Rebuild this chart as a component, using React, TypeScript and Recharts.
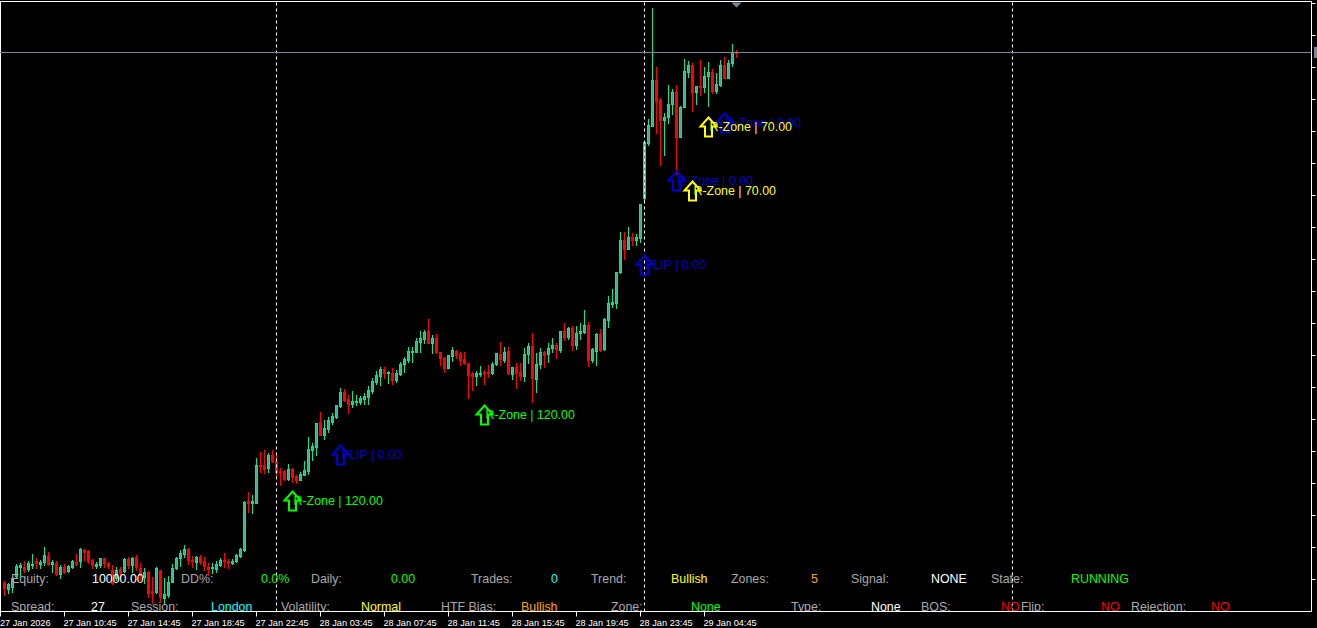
import { Bar, ComposedChart, ReferenceDot, ReferenceLine, XAxis, YAxis } from "recharts";

const opens = [
  28, 22, 24, 35, 44, 44, 42, 46, 50, 47,
  49, 55, 47, 48, 37, 44, 40, 44, 49, 50,
  61, 60, 51, 45, 46, 53, 48, 41, 33, 42,
  40, 52, 46, 54, 43, 34, 39, 20, 19, 41,
  13, 16, 29, 43, 53, 57, 62, 51, 49, 54,
  50, 44, 43, 42, 46, 51, 50, 48, 50, 55,
  61, 110, 108, 108, 146, 146, 143, 156, 150, 140,
  140, 132, 142, 135, 131, 136, 140, 161, 164, 189,
  176, 182, 189, 194, 205, 219, 212, 207, 209, 209,
  212, 214, 220, 229, 235, 242, 238, 238, 231, 237,
  247, 251, 259, 259, 269, 272, 280, 268, 273, 259,
  253, 243, 255, 260, 257, 252, 248, 238, 235, 237,
  239, 239, 238, 247, 257, 251, 260, 237, 244, 239,
  235, 257, 265, 232, 247, 259, 257, 263, 266, 261,
  280, 274, 283, 266, 278, 279, 286, 251, 260, 277,
  262, 291, 307, 308, 339, 371, 362, 374, 371, 373,
  413, 468, 485, 531, 511, 491, 494, 507, 519, 474,
  504, 539, 546, 519, 525, 524, 535, 539, 520, 526,
  546, 533, 548, 559,
];

const highs = [
  30, 28, 34, 47, 48, 50, 50, 57, 53, 51,
  64, 59, 51, 50, 46, 47, 46, 51, 57, 63,
  62, 61, 52, 49, 53, 53, 49, 46, 44, 44,
  53, 54, 54, 56, 48, 43, 40, 34, 44, 41,
  33, 35, 47, 54, 61, 66, 63, 55, 55, 56,
  54, 48, 48, 50, 53, 58, 52, 52, 57, 63,
  110, 119, 116, 153, 159, 161, 158, 161, 156, 143,
  141, 147, 143, 136, 139, 150, 174, 168, 188, 199,
  191, 194, 198, 206, 223, 222, 216, 220, 216, 215,
  218, 225, 233, 240, 244, 244, 240, 243, 241, 249,
  254, 264, 264, 273, 280, 281, 292, 276, 277, 259,
  254, 256, 264, 261, 259, 259, 248, 239, 240, 245,
  241, 246, 249, 258, 269, 264, 264, 244, 248, 248,
  263, 268, 278, 258, 263, 260, 268, 273, 268, 280,
  288, 284, 285, 285, 288, 301, 289, 263, 278, 282,
  293, 315, 322, 339, 379, 379, 384, 378, 377, 407,
  470, 492, 603, 544, 513, 498, 526, 522, 526, 505,
  552, 550, 548, 525, 551, 544, 549, 542, 538, 551,
  554, 551, 567, 561,
];

const lows = [
  16, 18, 19, 33, 34, 39, 40, 43, 43, 43,
  46, 46, 39, 36, 33, 38, 39, 43, 46, 44,
  51, 48, 43, 43, 44, 44, 43, 27, 31, 34,
  39, 43, 39, 41, 31, 28, 14, 8, 18, 10,
  7, 14, 29, 42, 45, 54, 47, 44, 42, 47,
  41, 36, 38, 39, 45, 44, 43, 47, 49, 54,
  60, 99, 98, 108, 139, 138, 139, 149, 134, 126,
  131, 131, 129, 128, 131, 136, 137, 151, 156, 176,
  172, 179, 187, 193, 204, 210, 198, 204, 206, 207,
  207, 207, 218, 227, 226, 233, 228, 227, 229, 236,
  239, 249, 249, 259, 259, 268, 268, 258, 258, 246,
  239, 243, 250, 253, 246, 247, 213, 221, 226, 235,
  227, 234, 237, 246, 246, 249, 237, 232, 223, 231,
  230, 248, 209, 219, 243, 244, 249, 259, 253, 259,
  271, 272, 261, 262, 272, 278, 245, 249, 246, 260,
  261, 284, 304, 303, 338, 352, 362, 366, 366, 369,
  409, 466, 485, 478, 446, 456, 488, 497, 437, 474,
  504, 534, 500, 507, 516, 519, 505, 518, 518, 525,
  533, 533, 545, 554,
];

const closes = [
  23, 27, 33, 45, 46, 41, 48, 47, 48, 49,
  56, 47, 49, 37, 44, 39, 45, 50, 47, 62,
  59, 50, 46, 47, 53, 48, 45, 28, 41, 38,
  52, 46, 53, 44, 36, 39, 18, 18, 43, 14,
  17, 29, 43, 53, 58, 62, 51, 50, 54, 49,
  45, 42, 44, 47, 51, 50, 48, 50, 56, 62,
  109, 108, 110, 146, 145, 142, 156, 150, 139, 139,
  132, 142, 134, 131, 137, 141, 162, 165, 188, 176,
  183, 191, 195, 206, 219, 211, 207, 210, 210, 213,
  215, 221, 230, 236, 242, 238, 239, 231, 238, 247,
  252, 260, 260, 270, 273, 279, 268, 273, 259, 253,
  243, 256, 261, 256, 251, 248, 236, 235, 238, 238,
  238, 238, 247, 258, 252, 259, 238, 244, 238, 235,
  257, 265, 233, 247, 259, 256, 263, 266, 262, 280,
  274, 283, 266, 278, 280, 286, 251, 262, 277, 261,
  292, 308, 309, 339, 371, 362, 374, 371, 374, 407,
  469, 486, 531, 510, 491, 494, 507, 519, 474, 504,
  540, 546, 519, 525, 524, 535, 539, 520, 527, 546,
  533, 548, 559, 558,
];

const timeTicks = [0, 16, 32, 48, 64, 80, 96, 112, 128, 144, 160, 176];
const timeLabels = [
  "27 Jan 2026", "27 Jan 10:45", "27 Jan 14:45", "27 Jan 18:45", "27 Jan 22:45", "28 Jan 03:45",
  "28 Jan 07:45", "28 Jan 11:45", "28 Jan 15:45", "28 Jan 19:45", "28 Jan 23:45", "29 Jan 04:45",
];
const priceTicks = [608, 576, 544, 512, 480, 448, 416, 384, 352, 320, 288, 256, 224, 192, 160, 128, 96, 64, 32];
const daySeparators = [69, 161, 253];
const lastPrice = 559;
const lastSlot = 184;

const zoneMarkers = [
  { slot: 85, price: 168, text: "FLIP | 0.00", kind: "flip" },
  { slot: 161, price: 358, text: "FLIP | 0.00", kind: "flip" },
  { slot: 169, price: 442, text: "R-Zone | 0.00", kind: "flip" },
  { slot: 181, price: 500, text: "R-Zone | 0.00", kind: "flip" },
  { slot: 73, price: 122, text: "R-Zone | 120.00", kind: "strong" },
  { slot: 121, price: 208, text: "R-Zone | 120.00", kind: "strong" },
  { slot: 173, price: 432, text: "R-Zone | 70.00", kind: "weak" },
  { slot: 177, price: 496, text: "R-Zone | 70.00", kind: "weak" },
];

const panelTopRow = [
  ["Equity:", "10000.00", "white"], ["DD%:", "0.0%", "lime"], ["Daily:", "0.00", "lime"], ["Trades:", "0", "cyan"],
  ["Trend:", "Bullish", "yellow"], ["Zones:", "5", "orange"], ["Signal:", "NONE", "white"], ["State:", "RUNNING", "lime"],
];
const panelBottomRow = [
  ["Spread:", "27", "white"], ["Session:", "London", "cyan"], ["Volatility:", "Normal", "yellow"], ["HTF Bias:", "Bullish", "orange"],
  ["Zone:", "None", "lime"], ["Type:", "None", "white"], ["BOS:", "NO", "red"], ["Flip:", "NO", "red"], ["Rejection:", "NO", "red"],
];
const topRowX = [[11, 92], [181, 261], [311, 391], [471, 551], [591, 671], [731, 811], [851, 931], [991, 1071]];
const bottomRowX = [[11, 91], [131, 211], [281, 361], [441, 521], [611, 691], [791, 871], [921, 1001], [1021, 1101], [1131, 1211]];

const FONT = "'Liberation Sans', Arial, sans-serif";
const BULL_EDGE = "#00e89a";
const BULL_FILL = "#2fb58c";
const BEAR = "#ff0000";
const GREY = "#778899";
const LABEL = "#a9a9a9";
const MARKER_COLORS: Record<string, string> = { flip: "#0000cd", strong: "#00ff00", weak: "#ffff00" };

const rows = Array.from({ length: 328 }, (_, slot) => {
  const k = slot - 1;
  if (k < 0 || k >= opens.length) return { slot };
  return { slot, range: [lows[k], highs[k]], open: opens[k], close: closes[k], high: highs[k], low: lows[k] };
});

// one Bar carries low..high, the body is placed inside it with the bar's own px-per-unit
function Candle({ x, y, height, payload }: any) {
  if (!payload || !payload.range) return null;
  const up = payload.close >= payload.open;
  const color = up ? BULL_EDGE : BEAR;
  const perUnit = height / (payload.high - payload.low);
  const center = Math.round(x);
  const wickTop = Math.floor(y);
  const wickBottom = Math.floor(y + height) + 1;
  const bodyTop = Math.floor(y + (payload.high - Math.max(payload.open, payload.close)) * perUnit);
  const bodyBottom = Math.floor(y + (payload.high - Math.min(payload.open, payload.close)) * perUnit) + 1;
  const bodySize = bodyBottom - bodyTop;
  return (
    <g>
      <rect x={center} y={wickTop} width={1} height={wickBottom - wickTop} fill={color} />
      <rect x={center - 1} y={bodyTop} width={3} height={bodySize} fill={color} />
      {up && bodySize > 2 ? <rect x={center} y={bodyTop + 1} width={1} height={bodySize - 2} fill={BULL_FILL} /> : null}
    </g>
  );
}

function TimeTick({ x, y, payload }: any) {
  const label = timeLabels[timeTicks.indexOf(payload.value)];
  return (
    <text x={Math.max(x - 1, 0)} y={y + 7} fill="#fff" fontSize={9.2} fontFamily={FONT} textAnchor="start">
      {label}
    </text>
  );
}

function LastPriceLine({ x1, x2, y1 }: any) {
  const right = Math.max(x1, x2);
  return (
    <g>
      <line x1={Math.min(x1, x2)} x2={right} y1={y1} y2={y1} stroke={GREY} />
      <rect x={right + 2.5} y={y1 - 5.5} width={4} height={11} fill={GREY} />
    </g>
  );
}

function ShiftNotch({ cx, cy }: any) {
  return <polygon points={`${cx - 5},${cy} ${cx + 5},${cy} ${cx},${cy + 5}`} fill={GREY} />;
}

function ZoneArrow({ cx, cy, color, text }: any) {
  const tip = cy + 2;
  const d = `M${cx} ${tip} L${cx + 8} ${tip + 9} L${cx + 3.5} ${tip + 9} L${cx + 3.5} ${tip + 19} L${cx - 3.5} ${tip + 19} L${cx - 3.5} ${tip + 9} L${cx - 8} ${tip + 9} Z`;
  return (
    <g>
      <path d={d} fill="none" stroke={color} strokeWidth={2} />
      <text x={cx + 1} y={cy + 15.5} fill={color} fontSize={12.4} fontFamily={FONT}>
        {text}
      </text>
    </g>
  );
}

function PanelRow({ row, columns, y }: any) {
  return row.map((cell: string[], i: number) => (
    <g key={cell[0]}>
      <text x={columns[i][0]} y={y} fill={LABEL} fontSize={12.4} fontFamily={FONT}>
        {cell[0]}
      </text>
      <text x={columns[i][1]} y={y} fill={cell[2]} fontSize={12.4} fontFamily={FONT}>
        {cell[1]}
      </text>
    </g>
  ));
}

export default function App() {
  return (
    <div style={{ position: "relative", width: 1317, height: 628, background: "#000", overflow: "hidden" }}>
      <style>{"body{margin:0;background:#000}"}</style>
      <ComposedChart
        width={1317}
        height={628}
        data={rows}
        margin={{ top: 1.5, right: 0, bottom: 0, left: -1.5 }}
        barSize={3}
      >
        <XAxis
          dataKey="slot"
          type="category"
          height={16.5}
          interval={0}
          ticks={timeTicks}
          tick={<TimeTick />}
          tickSize={5}
          stroke="#fff"
          padding={{ left: 0, right: 1 }}
        />
        <YAxis
          orientation="right"
          width={5.5}
          domain={[0, 610]}
          ticks={priceTicks}
          interval={0}
          tickSize={4}
          tickFormatter={() => ""}
          stroke="#fff"
        />
        <ReferenceLine y={610} stroke="#fff" />
        <ReferenceLine x={0} stroke="#fff" />
        <Bar dataKey="range" shape={<Candle />} isAnimationActive={false} />
        {daySeparators.map((slot) => (
          <ReferenceLine key={slot} x={slot} stroke="#fff" strokeDasharray="3 3" />
        ))}
        <ReferenceLine y={lastPrice} shape={<LastPriceLine />} />
        <ReferenceDot x={lastSlot} y={609} shape={<ShiftNotch />} />
        {zoneMarkers.map((m) => (
          <ReferenceDot
            key={m.slot}
            x={m.slot}
            y={m.price}
            shape={<ZoneArrow color={MARKER_COLORS[m.kind]} text={m.text} />}
          />
        ))}
      </ComposedChart>
      <svg width={1317} height={611} style={{ position: "absolute", left: 0, top: 0, pointerEvents: "none" }}>
        <PanelRow row={panelTopRow} columns={topRowX} y={583} />
        <PanelRow row={panelBottomRow} columns={bottomRowX} y={611} />
      </svg>
    </div>
  );
}
